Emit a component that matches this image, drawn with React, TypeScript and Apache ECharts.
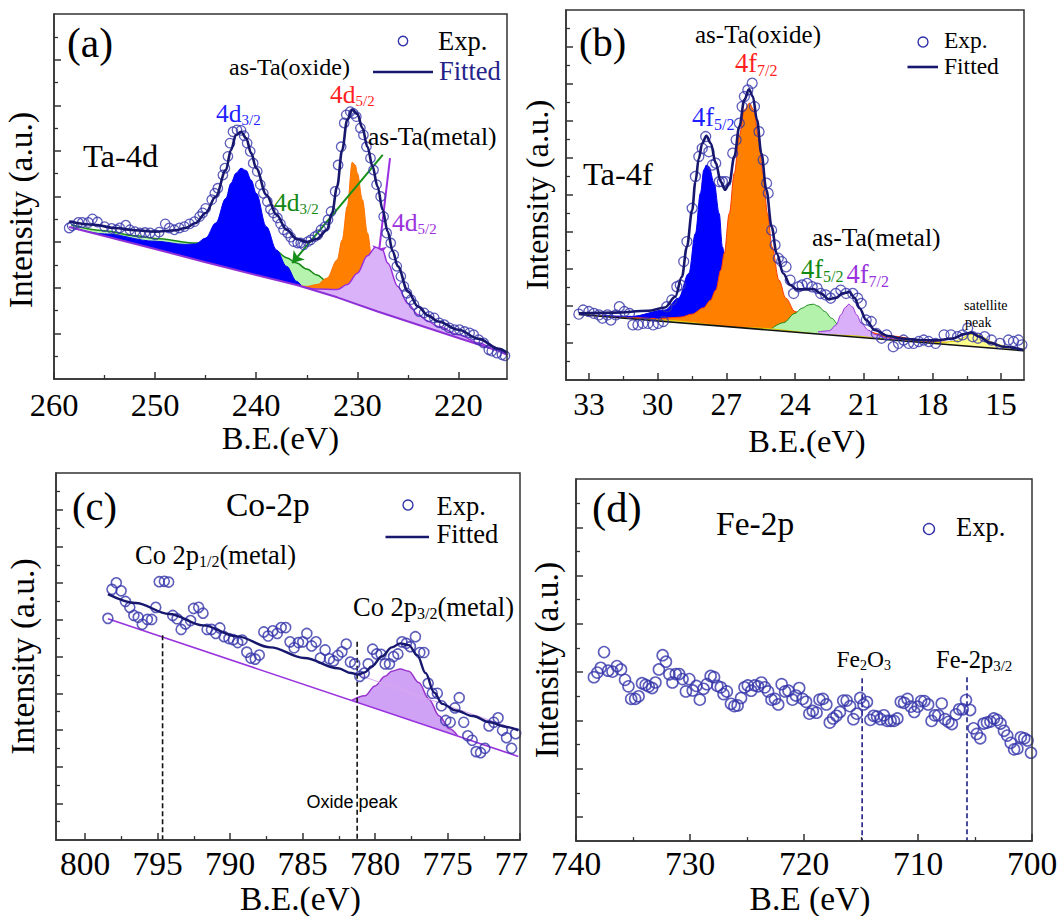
import React, { useEffect, useRef } from "react";
import * as echarts from "echarts";

const SERIF = "Liberation Serif, Times New Roman, serif";
const SANS = "Liberation Sans, Arial, sans-serif";
const EXP_COLOR = "#3434aa";
const FIT_COLOR = "#17176e";
const AXIS_COLOR = "#333333";

// ---------------- Panel (a) Ta-4d ----------------
const ta4dExp = [[258.5,3.31],[258.2,3.36],[257.6,3.43],[257.2,3.43],[256.6,3.43],[256.2,3.51],[255.7,3.44],[255.0,3.34],[254.3,3.30],[253.8,3.27],[253.5,3.31],[252.9,3.37],[252.5,3.27],[252.0,3.23],[251.5,3.20],[251.0,3.21],[250.5,3.20],[250.0,3.16],[249.6,3.22],[249.0,3.40],[248.6,3.31],[248.1,3.27],[247.6,3.31],[247.1,3.34],[246.6,3.40],[246.1,3.45],[245.6,3.56],[245.3,3.64],[245.0,3.74],[244.4,3.93],[244.1,4.07],[243.8,4.18],[243.3,4.47],[243.1,4.62],[242.8,4.88],[242.6,5.17],[242.3,5.42],[241.9,5.46],[241.5,5.45],[241.2,5.33],[240.9,5.17],[240.6,4.99],[240.3,4.73],[239.9,4.55],[239.6,4.26],[239.3,4.07],[238.9,3.89],[238.6,3.72],[238.3,3.64],[237.9,3.53],[237.6,3.40],[237.3,3.27],[236.9,3.20],[236.6,3.11],[236.3,3.01],[235.9,2.98],[235.6,2.98],[235.3,2.94],[234.9,3.01],[234.6,3.05],[234.2,3.12],[233.9,3.16],[233.6,3.27],[233.2,3.34],[232.9,3.49],[232.6,3.67],[232.2,4.11],[231.9,4.69],[231.6,5.09],[231.3,5.61],[231.1,5.79],[230.7,5.86],[230.4,5.82],[230.1,5.75],[229.7,5.50],[229.4,5.35],[229.1,5.09],[228.7,4.84],[228.4,4.58],[228.1,4.26],[227.7,4.00],[227.4,3.56],[227.1,3.20],[226.7,2.98],[226.4,2.72],[226.1,2.47],[225.7,2.25],[225.4,2.03],[225.1,1.88],[224.7,1.74],[224.4,1.63],[223.9,1.48],[223.4,1.45],[222.9,1.37],[222.4,1.34],[221.9,1.23],[221.4,1.19],[220.9,1.12],[220.4,1.08],[219.9,1.08],[219.4,1.04],[218.9,1.01],[218.5,0.97],[218.0,0.86],[217.5,0.79],[217.0,0.64],[216.7,0.61],[216.2,0.57],[215.7,0.53],[215.4,0.51]];
const ta4dFit = [[258.5,3.45],[256,3.38],[254,3.31],[252,3.26],[250,3.23],[248,3.26],[247,3.31],[246,3.42],[245,3.64],[244,4.00],[243,4.58],[242.5,5.02],[242,5.35],[241.5,5.42],[241,5.28],[240.5,4.95],[240,4.62],[239,4.04],[238,3.60],[237,3.27],[236,3.07],[235,3.00],[234,3.07],[233,3.27],[232.5,3.64],[232,4.22],[231.5,5.02],[231,5.68],[230.5,5.90],[230,5.81],[229.5,5.50],[229,5.09],[228.5,4.66],[228,4.22],[227.5,3.71],[227,3.23],[226.5,2.80],[226,2.47],[225,1.92],[224,1.59],[223,1.39],[222,1.26],[220,1.08],[218,0.88],[216,0.66],[215.2,0.57]];
const ta4dBg = [[258.5,3.33],[250,2.85],[245,2.56],[240,2.28],[236,2.06],[232,1.79],[228,1.48],[224,1.19],[220,0.90],[216,0.61],[215.2,0.53]];
const ta4dMetal32 = [[258.3,3.38],[255,3.25],[252,3.14],[250,3.08],[246,2.98],[244,2.98],[242,3.00],[240,2.95],[238,2.80],[237,2.66],[236,2.54],[235,2.41],[234,2.28],[233,2.14],[232,1.98],[231,1.82],[230,1.68],[229,1.56]];
const ta4dOxide32 = [[258.3,3.33],[255,3.18],[250,3.02],[247,2.95],[246,2.96],[245,3.09],[244,3.42],[243,3.96],[242.5,4.29],[242,4.51],[241.5,4.62],[241,4.57],[240.5,4.36],[240,4.07],[239,3.34],[238,2.83],[237,2.47],[236,2.14],[235.5,2.03]];
const ta4dOxide52 = [[237,2.12],[235,2.03],[234,2.07],[233,2.21],[232,2.61],[231.5,3.05],[231,3.78],[230.5,4.75],[230.2,4.69],[230,4.51],[229.5,3.93],[229,3.20],[228.5,2.54],[228,2.10],[227,1.70],[226,1.55],[225,1.37],[224,1.22],[223,1.12]];
const ta4dMetal52 = [[236,2.06],[234,1.97],[232,1.96],[231,2.07],[230,2.32],[229,2.70],[228.2,2.89],[227.5,2.82],[227,2.54],[226,2.03],[225,1.65],[224,1.41],[223,1.26],[222,1.15],[220,0.97],[218,0.79],[216,0.61],[215.2,0.54]];
const ta4dArrows = [[[227.49,4.91],[236.44,2.54]],[[226.77,4.84],[227.92,2.68]]];
const ta4dXMajor = [260,250,240,230,220];
const ta4dXMinor = [255,245,235,225];
const ta4dYMajor = [1,2,3,4,5,6,7];
const ta4dYMinor = [0.5,1.5,2.5,3.5,4.5,5.5,6.5,7.5];

// ---------------- Panel (b) Ta-4f ----------------
const ta4fExp = [[33.44,1.78],[33.25,1.89],[33.0,1.85],[32.78,1.80],[32.56,1.76],[32.41,1.67],[32.19,1.76],[32.04,1.62],[31.82,1.76],[31.67,1.98],[31.45,1.85],[31.23,1.80],[31.08,1.49],[30.86,1.49],[30.64,1.53],[30.42,1.53],[30.19,1.49],[29.97,1.53],[29.75,1.58],[29.60,1.98],[29.38,2.16],[29.16,2.52],[29.01,2.57],[28.86,3.20],[28.72,3.74],[28.49,4.64],[28.35,5.50],[28.20,6.04],[28.05,6.26],[27.90,6.58],[27.76,6.17],[27.61,5.81],[27.46,5.86],[27.31,5.36],[27.17,5.36],[27.02,5.36],[26.72,6.13],[26.57,6.49],[26.43,6.94],[26.31,7.39],[26.21,7.66],[26.06,7.84],[25.87,8.02],[25.77,7.39],[25.57,6.71],[25.39,5.95],[25.24,5.32],[25.17,5.05],[25.02,4.05],[24.87,3.65],[24.73,3.29],[24.58,3.20],[24.39,3.06],[24.21,2.70],[24.06,2.34],[23.84,2.52],[23.69,2.57],[23.47,2.61],[23.25,2.52],[23.03,2.48],[22.88,2.34],[22.66,2.30],[22.44,2.21],[22.22,2.34],[22.00,2.43],[21.77,2.34],[21.48,2.34],[21.26,2.21],[21.11,2.07],[20.89,1.62],[20.67,1.58],[20.45,1.26],[20.22,1.13],[20.00,1.22],[19.71,0.90],[19.48,0.99],[19.26,1.08],[19.04,0.99],[18.82,0.99],[18.60,1.04],[18.38,1.08],[18.16,1.04],[17.86,0.99],[17.49,1.22],[17.19,1.22],[16.90,1.17],[16.68,1.22],[16.46,1.40],[16.24,1.17],[16.01,1.13],[15.72,1.17],[15.42,1.08],[15.05,0.99],[14.68,1.08],[14.46,1.04],[14.24,1.08],[14.09,0.95]];
const ta4fFit = [[33.44,1.80],[31.89,1.82],[30.42,1.87],[29.68,1.96],[29.23,2.25],[28.94,2.79],[28.72,3.60],[28.49,4.59],[28.35,5.36],[28.20,5.99],[28.05,6.40],[27.87,6.60],[27.68,6.40],[27.46,5.86],[27.24,5.36],[27.05,5.14],[26.87,5.32],[26.65,6.04],[26.43,6.85],[26.21,7.57],[26.01,7.86],[25.84,7.66],[25.66,7.03],[25.47,6.13],[25.25,5.14],[25.02,4.14],[24.80,3.42],[24.51,2.88],[24.21,2.57],[23.92,2.45],[23.47,2.45],[23.18,2.46],[22.88,2.34],[22.51,2.18],[22.22,2.22],[21.92,2.34],[21.63,2.38],[21.40,2.22],[21.18,1.94],[20.89,1.62],[20.52,1.35],[19.93,1.19],[19.34,1.12],[18.60,1.08],[17.86,1.07],[17.12,1.12],[16.60,1.24],[16.31,1.28],[15.94,1.17],[15.50,1.01],[14.91,0.90],[14.02,0.81]];
const ta4fBg = [[33.44,1.77],[14,0.79]];
const ta4fOxide52 = [[33.3,1.77],[31.15,1.72],[29.68,1.89],[29.09,2.21],[28.64,2.88],[28.35,3.96],[28.13,5.05],[27.98,5.68],[27.87,5.81],[27.76,5.77],[27.53,5.32],[27.31,4.50],[27.17,3.60],[26.94,2.50],[26.72,1.90],[26.28,1.55],[25.25,1.40],[23.77,1.30]];
const ta4fOxide72 = [[33.3,1.77],[31,1.68],[30,1.66],[29,1.70],[28.5,1.78],[28,1.95],[27.7,2.15],[27.46,2.43],[27.24,2.97],[27.09,3.42],[26.87,4.50],[26.65,5.59],[26.43,6.62],[26.21,7.30],[25.99,7.48],[25.8,7.30],[25.6,6.58],[25.4,5.59],[25.2,4.50],[25.0,3.60],[24.7,2.70],[24.4,2.21],[24,1.85],[23.5,1.67],[23,1.58],[22,1.45],[21,1.33],[20,1.20],[18,1.04],[16,0.92],[14,0.81]];
const ta4fMetal52 = [[25,1.40],[24.5,1.55],[24,1.80],[23.7,1.94],[23.4,2.03],[23.2,2.05],[23,2.00],[22.7,1.85],[22.4,1.67],[22.1,1.49],[21.8,1.35],[21.5,1.28],[21,1.20],[20,1.10],[19,1.04]];
const ta4fMetal72 = [[23,1.30],[22.5,1.33],[22.2,1.49],[22.0,1.76],[21.8,1.96],[21.65,2.05],[21.5,1.98],[21.3,1.76],[21.1,1.53],[20.8,1.35],[20.5,1.23],[20,1.14],[19.5,1.10],[19,1.06],[18.5,1.02]];
const ta4fSatellite = [[33.3,1.79],[30,1.62],[26,1.41],[22,1.21],[19,1.06],[18,1.01],[17.5,1.02],[17,1.05],[16.7,1.13],[16.4,1.23],[16.2,1.26],[16.0,1.24],[15.7,1.13],[15.4,1.02],[15,0.94],[14.5,0.87],[14,0.82]];
const ta4fXMajor = [33,30,27,24,21,18,15];
const ta4fXMinor = [31.5,28.5,25.5,22.5,19.5,16.5];
const ta4fYMajor = [1,2,3,4,5,6,7,8,9];
const ta4fYMinor = [0.5,1.5,2.5,3.5,4.5,5.5,6.5,7.5,8.5,9.5];

// ---------------- Panel (c) Co-2p ----------------
const co2pExp = [[798.42,6.04],[798.14,6.83],[797.84,7.01],[797.51,6.79],[797.21,6.50],[796.91,6.34],[796.63,6.12],[796.33,6.07],[796.05,5.88],[795.70,6.01],[795.40,6.01],[795.12,6.34],[794.88,7.04],[794.53,7.05],[794.23,7.03],[793.95,6.12],[793.65,6.03],[793.37,5.74],[793.07,5.89],[792.72,5.98],[792.51,6.31],[792.16,6.34],[791.86,6.18],[791.58,5.74],[791.28,5.74],[790.98,5.63],[790.70,5.78],[790.40,5.54],[790.07,5.49],[789.77,5.46],[789.47,5.38],[789.16,5.45],[788.84,5.12],[788.56,4.96],[788.26,4.93],[787.98,5.04],[787.67,5.67],[787.37,5.56],[787.05,5.70],[786.74,5.63],[786.47,5.79],[786.16,5.79],[785.86,5.40],[785.58,5.24],[785.28,5.38],[784.98,5.40],[784.70,5.63],[784.37,5.29],[784.07,5.40],[783.77,4.96],[783.44,5.18],[783.14,4.94],[782.86,4.88],[782.56,5.03],[782.28,5.13],[781.98,5.34],[781.70,4.85],[781.40,4.80],[781.05,4.46],[780.74,4.55],[780.47,4.80],[780.16,5.20],[779.88,5.07],[779.58,5.06],[779.30,4.80],[779.00,4.80],[778.72,5.00],[778.42,5.07],[778.14,5.40],[777.84,5.36],[777.56,5.27],[777.21,5.54],[776.91,5.11],[776.63,5.11],[776.33,4.27],[776.05,4.00],[775.70,4.00],[775.42,3.66],[775.12,3.26],[774.81,3.21],[774.49,3.60],[774.19,3.88],[773.88,3.21],[773.60,2.84],[773.30,2.72],[773.02,2.41],[772.72,2.38],[772.42,2.50],[772.14,3.11],[771.81,3.21],[771.51,3.33],[771.21,2.99],[770.93,2.79],[770.58,2.50],[770.30,2.90]];
const co2pFit = [[798.42,6.70],[796.51,6.46],[794.19,6.16],[791.86,5.85],[789.53,5.55],[787.21,5.25],[784.88,4.96],[782.56,4.68],[781.63,4.55],[781.16,4.51],[780.70,4.57],[780.23,4.73],[779.53,5.00],[778.84,5.25],[778.26,5.36],[777.67,5.31],[777.09,5.04],[776.51,4.55],[775.93,4.02],[775.35,3.71],[774.42,3.53],[773.26,3.38],[772.09,3.21],[770.93,3.08],[770.12,2.99]];
const co2pBg = [[798.42,6.03],[770.12,2.28]];
const co2pInner = [[781.15,4.50],[770.5,3.05]];
const co2pPeak = [[781.63,3.80],[780.70,3.93],[780.0,4.20],[779.30,4.46],[778.84,4.60],[778.26,4.66],[777.67,4.60],[776.98,4.29],[776.28,3.84],[775.58,3.39],[774.88,3.04],[774.30,2.84]];
const co2pMarkE = [794.65, 781.23];
const co2pMarkTop = [5.58, 5.40];
const co2pXMajor = [800,795,790,785,780,775,770];
const co2pXMinor = [797.5,792.5,787.5,782.5,777.5,772.5];
const co2pYMajor = [1,2,3,4,5,6,7,8,9];
const co2pYMinor = [0.5,1.5,2.5,3.5,4.5,5.5,6.5,7.5,8.5,9.5];

// ---------------- Panel (d) Fe-2p ----------------
const fe2pExp = [[738.43,6.79],[738.13,6.98],[737.83,7.18],[737.54,7.83],[737.18,7.06],[736.80,7.02],[736.41,7.25],[736.05,7.11],[735.70,6.68],[735.40,6.41],[735.16,5.89],[734.81,5.89],[734.51,6.00],[734.21,6.54],[733.89,6.47],[733.62,6.41],[733.32,6.34],[733.03,6.57],[732.73,7.11],[732.40,7.70],[732.11,7.43],[731.81,6.91],[731.54,6.57],[731.25,6.92],[730.95,6.92],[730.65,6.71],[730.36,6.20],[730.06,6.71],[729.76,6.24],[729.44,6.43],[729.14,5.86],[728.81,6.31],[728.52,6.50],[728.19,6.84],[727.89,6.79],[727.60,6.43],[727.30,6.37],[727.06,6.09],[726.77,6.20],[726.41,5.69],[726.11,5.59],[725.82,5.62],[725.52,5.93],[725.22,6.37],[724.93,6.45],[724.63,6.23],[724.33,6.45],[724.04,6.41],[723.74,6.57],[723.44,6.37],[723.15,6.20],[722.85,5.86],[722.55,5.89],[722.26,5.66],[721.96,6.50],[721.66,6.20],[721.36,6.23],[721.01,5.86],[720.71,6.03],[720.42,6.34],[720.12,5.89],[719.82,5.77],[719.53,5.28],[719.23,5.39],[718.90,5.32],[718.64,5.86],[718.34,5.89],[718.04,5.66],[717.74,4.91],[717.45,5.08],[717.15,5.19],[716.85,5.35],[716.56,5.82],[716.26,5.82],[715.96,5.59],[715.67,5.05],[715.37,5.28],[715.07,5.93],[714.78,5.66],[714.48,5.76],[714.18,5.02],[713.89,5.19],[713.59,5.16],[713.29,5.05],[713.00,5.21],[712.70,4.98],[712.40,4.98],[712.11,4.98],[711.81,5.08],[711.51,5.77],[711.22,5.73],[710.92,5.89],[710.62,5.57],[710.33,5.35],[710.03,5.57],[709.73,5.80],[709.44,5.80],[709.11,5.66],[708.81,4.98],[708.52,5.21],[708.22,5.21],[707.92,5.70],[707.63,5.05],[707.33,4.94],[707.03,4.85],[706.68,5.25],[706.38,5.46],[706.08,5.46],[705.79,5.84],[705.43,5.43],[705.13,4.67],[704.84,4.44],[704.54,4.26],[704.24,4.87],[703.95,4.91],[703.65,4.95],[703.35,5.08],[703.06,5.02],[702.76,4.87],[702.46,4.57],[702.17,4.37],[701.87,4.07],[701.57,3.80],[701.28,3.83],[700.98,4.30],[700.68,4.26],[700.39,4.17],[700.09,3.66]];
const fe2pMarkE = [714.9, 705.7];
const fe2pMarkTop = [6.75, 6.79];
const fe2pXMajor = [740,730,720,710,700];
const fe2pXMinor = [735,725,715,705];
const fe2pYMajor = [1,3,5,7,9,11,13];
const fe2pYMinor = [2,4,6,8,10,12,14];

// ---------------- layout ----------------
const GRIDS = [
  { left: 54, top: 14, width: 453, height: 365 },
  { left: 566, top: 10, width: 458, height: 370 },
  { left: 56, top: 473, width: 464, height: 373.5 },
  { left: 576, top: 479, width: 456, height: 368 },
];

const X_CFG = [
  { min: 215.2, max: 260, major: ta4dXMajor, minor: ta4dXMinor, fs: 32.5, margin: 9, name: "B.E.(eV)", nfs: 32.5, gap: 42, pad: [0, 0, 0, 0] },
  { min: 14, max: 34, major: ta4fXMajor, minor: ta4fXMinor, fs: 31.5, margin: 8.5, name: "B.E.(eV)", nfs: 32.5, gap: 44, pad: [0, 0, 0, 24] },
  { min: 770, max: 802, major: co2pXMajor, minor: co2pXMinor, fs: 33.5, margin: 6, name: "B.E.(eV)", nfs: 33.5, gap: 35, pad: [0, 0, 0, 25] },
  { min: 700, max: 740, major: fe2pXMajor, minor: fe2pXMinor, fs: 33.5, margin: 5, name: "B.E (eV)", nfs: 33.5, gap: 29, pad: [0, 0, 0, 12] },
];
const Y_CFG = [
  { min: 0, max: 8, major: ta4dYMajor, minor: ta4dYMinor, nfs: 33.5, gap: 17, pad: [0, 27, 0, 0] },
  { min: 0, max: 10, major: ta4fYMajor, minor: ta4fYMinor, nfs: 32.5, gap: 13, pad: [0, 0, 0, 0] },
  { min: 0, max: 10, major: co2pYMajor, minor: co2pYMinor, nfs: 33.5, gap: 17, pad: [0, 0, 0, 0] },
  { min: 0, max: 15, major: fe2pYMajor, minor: fe2pYMinor, nfs: 33.5, gap: 13, pad: [0, 0, 0, 0] },
];

const AXIS_Z = 60;

function buildAxes() {
  const xAxis: any[] = [];
  const yAxis: any[] = [];
  X_CFG.forEach((c, i) => {
    xAxis.push({
      type: "value", gridIndex: i, min: c.min, max: c.max, inverse: true, position: "bottom", z: AXIS_Z,
      axisLine: { show: true, onZero: false, lineStyle: { color: AXIS_COLOR, width: 1.5 } },
      axisTick: { show: true, inside: true, length: 7, customValues: c.major, lineStyle: { color: AXIS_COLOR, width: 1.5 } },
      axisLabel: {
        show: true, customValues: c.major, fontSize: c.fs, fontFamily: SERIF, color: "#000", margin: c.margin,
        formatter: (v: number) => (i === 2 && v === 770 ? "{cut|77}" : String(v)),
        rich: { cut: { fontSize: c.fs, fontFamily: SERIF, color: "#000", padding: [0, 17, 0, 0] } },
      },
      splitLine: { show: false },
      name: c.name, nameLocation: "middle", nameGap: c.gap,
      nameTextStyle: { fontSize: c.nfs, fontFamily: SERIF, color: "#000", padding: c.pad },
    });
    xAxis.push({
      type: "value", gridIndex: i, min: c.min, max: c.max, inverse: true, position: "bottom", z: AXIS_Z,
      axisLine: { show: false, onZero: false },
      axisTick: { show: true, inside: true, length: 4, customValues: c.minor, lineStyle: { color: AXIS_COLOR, width: 1.3 } },
      axisLabel: { show: false },
      splitLine: { show: false },
    });
  });
  Y_CFG.forEach((c, i) => {
    yAxis.push({
      type: "value", gridIndex: i, min: c.min, max: c.max, position: "left", z: AXIS_Z,
      axisLine: { show: true, onZero: false, lineStyle: { color: AXIS_COLOR, width: 1.5 } },
      axisTick: { show: true, inside: true, length: 7, customValues: c.major, lineStyle: { color: AXIS_COLOR, width: 1.5 } },
      axisLabel: { show: false },
      splitLine: { show: false },
      name: "Intensity (a.u.)", nameLocation: "middle", nameGap: c.gap,
      nameTextStyle: { fontSize: c.nfs, fontFamily: SERIF, color: "#000", padding: c.pad },
    });
    yAxis.push({
      type: "value", gridIndex: i, min: c.min, max: c.max, position: "left", z: AXIS_Z,
      axisLine: { show: false, onZero: false },
      axisTick: { show: true, inside: true, length: 4, customValues: c.minor, lineStyle: { color: AXIS_COLOR, width: 1.3 } },
      axisLabel: { show: false },
      splitLine: { show: false },
    });
  });
  return { xAxis, yAxis };
}

const ax = (g: number) => ({ xAxisIndex: 2 * g, yAxisIndex: 2 * g });

function peak(g: number, data: number[][], fill: string, stroke: string, lw = 1) {
  return {
    type: "line", ...ax(g), data, smooth: 0.35, smoothMonotone: "x", symbol: "none", silent: true,
    lineStyle: { color: stroke, width: lw }, areaStyle: { color: fill, opacity: 1, origin: "start" },
  };
}
function cover(g: number, data: number[][], stroke: string, lw: number, extra: any = {}) {
  return {
    type: "line", ...ax(g), data, smooth: false, symbol: "none", silent: true,
    lineStyle: { color: stroke, width: lw }, areaStyle: { color: "#ffffff", opacity: 1, origin: "start" }, ...extra,
  };
}
function line(g: number, data: number[][], color: string, lw: number, smooth: any = 0.35, type: any = "solid") {
  return {
    type: "line", ...ax(g), data, smooth, smoothMonotone: "x", symbol: "none", silent: true,
    lineStyle: { color, width: lw, type },
  };
}
function exp(g: number, data: number[][], size: number, bw: number) {
  return {
    type: "scatter", ...ax(g), data, symbol: "circle", symbolSize: size, silent: true,
    itemStyle: { color: "rgba(255,255,255,0)", borderColor: EXP_COLOR, borderWidth: bw },
  };
}
function marks(g: number, xs: number[], tops: number[], color: string) {
  return xs.map((x, k) => line(g, [[x, tops[k]], [x, 0]], color, 1.6, false, [5, 3]));
}

const ARROW_COLORS = ["#17901a", "#9a2fe0"];

function buildSeries() {
  const s: any[] = [];
  // (a)
  s.push(peak(0, ta4dMetal32, "#b5f3ae", "#1a8a1a", 1.5));
  s.push(peak(0, ta4dOxide32, "#0000ff", "#0000ee", 1));
  s.push(peak(0, ta4dOxide52, "#ff8000", "#ff7000", 1));
  s.push(peak(0, ta4dMetal52, "#d9b2fa", "#9a30dc", 1.5));
  s.push(cover(0, ta4dBg, "#8f2fd6", 2, {
    markLine: {
      silent: true, symbol: ["none", "arrow"], symbolSize: 11, label: { show: false }, animation: false,
      data: ta4dArrows.map((seg, k) => [
        { coord: seg[0], lineStyle: { color: ARROW_COLORS[k], width: 2, type: "solid" } },
        { coord: seg[1] },
      ]),
    },
  }));
  s.push(exp(0, ta4dExp, 9.5, 1.3));
  s.push(line(0, ta4dFit, FIT_COLOR, 2.6));
  // (b)
  s.push(peak(1, ta4fOxide52, "#0000ff", "#0000ee", 1));
  s.push(peak(1, ta4fOxide72, "#ff8000", "#ff3a00", 1));
  s.push(peak(1, ta4fMetal52, "#b3f2aa", "#1a8a1a", 1));
  s.push(peak(1, ta4fMetal72, "#d8aff8", "#9a30dc", 1));
  s.push(peak(1, ta4fSatellite, "#ffff8c", "#d8c800", 1));
  s.push(cover(1, ta4fBg, "#111111", 1.6));
  s.push(exp(1, ta4fExp, 10, 1.3));
  s.push(line(1, ta4fFit, FIT_COLOR, 2.6));
  // (c)
  s.push(peak(2, co2pPeak, "#cfa2f5", "#9933cc", 1.5));
  s.push(cover(2, co2pBg, "#9933dd", 1.6));
  s.push(line(2, co2pInner, "#d7a8ee", 1, false));
  s.push(...marks(2, co2pMarkE, co2pMarkTop, "#111111"));
  s.push(exp(2, co2pExp, 10, 1.6));
  s.push(line(2, co2pFit, FIT_COLOR, 2.4));
  // (d)
  s.push(...marks(3, fe2pMarkE, fe2pMarkTop, "#22228a"));
  s.push(exp(3, fe2pExp, 11, 1.6));
  // each series on its own layer so fills and outlines stack in drawing order
  return s.map((ser, k) => ({ ...ser, z: 2 + k }));
}

function txt(text: string, left: number, top: number, fontSize: number, fill = "#000", fontFamily = SERIF) {
  return { type: "text", left, top, z: 100, silent: true, style: { text, fontSize, fontFamily, fill } };
}
function subTxt(parts: [string, boolean][], left: number, top: number, fill: string, fs: number, sfs: number, pad: number) {
  const text = parts.map(([t, sub]) => (sub ? `{s|${t}}` : `{m|${t}}`)).join("");
  return {
    type: "text", left, top, z: 100, silent: true,
    style: {
      text, fill,
      rich: {
        m: { fontSize: fs, fontFamily: SERIF, fill },
        s: { fontSize: sfs, fontFamily: SERIF, fill, padding: [pad, 0, 0, 0] },
      },
    },
  };
}
function legendCircle(cx: number, cy: number, r: number) {
  return { type: "circle", z: 100, silent: true, shape: { cx, cy, r }, style: { fill: "none", stroke: EXP_COLOR, lineWidth: 1.4 } };
}
function legendLine(x1: number, x2: number, y: number) {
  return { type: "line", z: 100, silent: true, shape: { x1, y1: y, x2, y2: y }, style: { stroke: FIT_COLOR, lineWidth: 2.6 } };
}

function buildGraphics() {
  const BLUE = "#1f1fff", RED = "#ff1f1f", GREEN = "#138a13", VIOLET = "#9a33dd";
  return [
    // (a)
    txt("(a)", 67, 22, 41.5),
    txt("Ta-4d", 83, 139, 32.5),
    txt("as-Ta(oxide)", 229, 55, 24),
    txt("as-Ta(metal)", 368, 123, 25.5),
    legendCircle(403, 41, 4.7),
    txt("Exp.", 438, 27, 26.5),
    legendLine(373, 433, 72),
    txt("Fitted", 439, 57, 26.5, "#23238a"),
    subTxt([["4d", false], ["3/2", true]], 216, 100, BLUE, 25.5, 15, 14),
    subTxt([["4d", false], ["5/2", true]], 330, 81, RED, 25.5, 15, 14),
    subTxt([["4d", false], ["3/2", true]], 274, 189, GREEN, 25.5, 15, 14),
    subTxt([["4d", false], ["5/2", true]], 392, 209, VIOLET, 25.5, 15, 14),
    // (b)
    txt("(b)", 579, 22, 40.5),
    txt("as-Ta(oxide)", 695, 22, 25),
    txt("Ta-4f", 583, 157, 32.5),
    txt("as-Ta(metal)", 812, 224, 25.5),
    txt("satellite", 964, 298, 14),
    txt("peak", 965, 315, 14),
    legendCircle(923, 42, 5),
    txt("Exp.", 944, 28, 23.5),
    legendLine(907.5, 938, 67),
    txt("Fitted", 944, 54, 23.5),
    subTxt([["4f", false], ["7/2", true]], 735, 49.5, RED, 26.5, 16, 15),
    subTxt([["4f", false], ["5/2", true]], 692, 103, BLUE, 26.5, 16, 15),
    subTxt([["4f", false], ["5/2", true]], 801, 255, GREEN, 26.5, 16, 15),
    subTxt([["4f", false], ["7/2", true]], 846.5, 260, VIOLET, 26.5, 16, 15),
    // (c)
    txt("(c)", 72, 486, 40.5),
    txt("Co-2p", 226, 487, 33.5),
    legendCircle(408, 505, 5),
    txt("Exp.", 436.5, 492, 26.5),
    legendLine(385.5, 429, 537),
    txt("Fitted", 436.5, 520, 26.5),
    subTxt([["Co 2p", false], ["1/2", true], ["(metal)", false]], 135, 541, "#000", 26.5, 16, 14),
    subTxt([["Co 2p", false], ["3/2", true], ["(metal)", false]], 353, 593, "#000", 26.5, 16, 14),
    txt("Oxide peak", 306.5, 793, 18, "#000", SANS),
    // (d)
    txt("(d)", 592, 486, 42.5),
    txt("Fe-2p", 716, 506, 33.5),
    legendCircle(929, 529, 5.5),
    txt("Exp.", 956, 513, 26.5),
    subTxt([["Fe", false], ["2", true], ["O", false], ["3", true]], 836.5, 647, "#000", 23.5, 14, 13),
    subTxt([["Fe-2p", false], ["3/2", true]], 936, 647, "#000", 24.5, 15, 13),
  ];
}

function buildOption() {
  const { xAxis, yAxis } = buildAxes();
  return {
    animation: false,
    backgroundColor: "#ffffff",
    grid: GRIDS.map((g) => ({ ...g, show: true, borderColor: AXIS_COLOR, borderWidth: 1.5, backgroundColor: "transparent", z: AXIS_Z })),
    xAxis,
    yAxis,
    series: buildSeries(),
    graphic: { elements: buildGraphics() },
  };
}

export default function App() {
  const ref = useRef<HTMLDivElement>(null);
  useEffect(() => {
    if (!ref.current) return;
    const chart = echarts.init(ref.current, undefined, { renderer: "svg" });
    chart.setOption(buildOption() as any);
    return () => chart.dispose();
  }, []);
  return (
    <div
      ref={ref}
      style={{ position: "absolute", left: 0, top: 0, width: 1061, height: 916, background: "#ffffff" }}
    />
  );
}
